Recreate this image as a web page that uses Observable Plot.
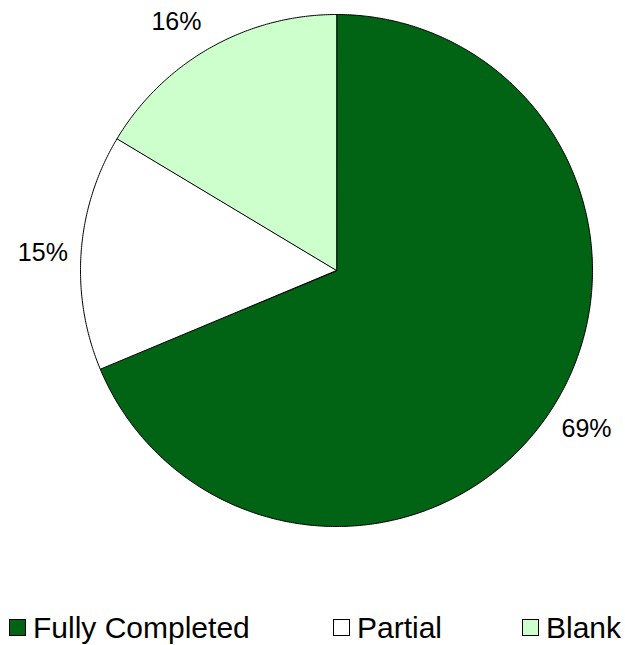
<!DOCTYPE html>
<html>
<head>
<meta charset="utf-8">
<script src="https://cdn.jsdelivr.net/npm/d3@7"></script>
<script src="https://cdn.jsdelivr.net/npm/@observablehq/plot@0.6"></script>
<style>
  html, body { margin: 0; padding: 0; background: #fff; }
  #wrap { position: relative; width: 625px; height: 645px; overflow: hidden; font-family: "Liberation Sans", Arial, sans-serif; }
  #chart { position: absolute; left: 0; top: 0; }
  #legend { position: absolute; left: 0; top: 610px; width: 625px; height: 35px; }
  .item { position: absolute; top: 0; height: 35px; display: flex; align-items: center; font-size: 30px; color: #000; line-height: 35px; white-space: nowrap; }
  .sw { width: 17px; height: 17px; border: 1px solid #000; margin-right: 7px; box-sizing: border-box; flex: none; }
</style>
</head>
<body>
<div id="wrap">
  <div id="chart"></div>
  <div id="legend"></div>
</div>
<script>
const categories = ["Fully Completed", "Partial", "Blank"];
const values = [68.7, 14.9, 16.4];
const labels = ["69%", "15%", "16%"];
const colors = ["#006414", "#FFFFFF", "#CCFFCC"];
const legendX = [9, 333, 522];

const arcs = d3.pie().sort(null).value(d => d)(values);

const marks = [];
arcs.forEach((a, i) => {
  const pts = [{x: 0, y: 0}];
  const n = Math.max(2, Math.ceil((a.endAngle - a.startAngle) / (Math.PI / 360)));
  for (let k = 0; k <= n; k++) {
    const t = a.startAngle + (a.endAngle - a.startAngle) * k / n;
    pts.push({x: Math.sin(t), y: Math.cos(t)});
  }
  marks.push(Plot.line(pts, {x: "x", y: "y", fill: colors[i], stroke: "#000", strokeWidth: 1, curve: "linear-closed"}));
});

const nudges = [[5, -5], [0, 4], [-15, 8]];
arcs.forEach((a, i) => {
  const m = (a.startAngle + a.endAngle) / 2;
  const d = [{x: 1.15 * Math.sin(m), y: 1.15 * Math.cos(m), text: labels[i]}];
  marks.push(Plot.text(d, {x: "x", y: "y", text: "text", fontSize: 25, fill: "#000",
    dx: nudges[i][0], dy: nudges[i][1], fontFamily: "Liberation Sans, Arial, sans-serif"}));
});

const chart = Plot.plot({
  width: 625,
  height: 600,
  margin: 0,
  x: {domain: [-1, 1], range: [80, 592], axis: null},
  y: {domain: [-1, 1], range: [526, 14], axis: null},
  style: {background: "#fff", fontFamily: "Liberation Sans, Arial, sans-serif"},
  marks
});
document.getElementById("chart").appendChild(chart);

const legend = document.getElementById("legend");
categories.forEach((c, i) => {
  const item = document.createElement("div");
  item.className = "item";
  item.style.left = legendX[i] + "px";
  const sw = document.createElement("div");
  sw.className = "sw";
  sw.style.background = colors[i];
  const tx = document.createElement("span");
  tx.textContent = c;
  item.appendChild(sw);
  item.appendChild(tx);
  legend.appendChild(item);
});
</script>
</body>
</html>
